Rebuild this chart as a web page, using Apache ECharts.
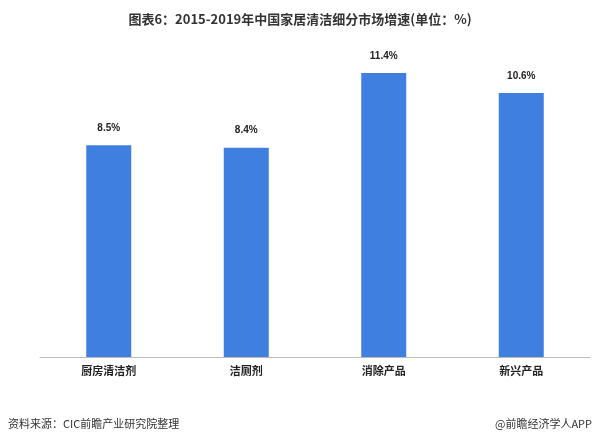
<!DOCTYPE html>
<html><head><meta charset="utf-8">
<script src="https://cdn.jsdelivr.net/npm/echarts@6/dist/echarts.min.js"></script>
<style>html,body{margin:0;padding:0;background:#fff}#c{width:600px;height:446px}</style>
</head><body><div id="c"></div>
<script>
const categories = ['厨房清洁剂','洁厕剂','消除产品','新兴产品'];
const values = [8.5, 8.4, 11.4, 10.6];
const chart = echarts.init(document.getElementById('c'));
chart.setOption({
  animation:false,
  title:{text:'图表6：2015-2019年中国家居清洁细分市场增速(单位：%)',left:'center',top:8,
    textStyle:{fontSize:13,fontWeight:'bold',color:'#333',fontFamily:'Noto Sans CJK SC'}},
  graphic:[
    {type:'text',left:8,top:418,style:{text:'资料来源：CIC前瞻产业研究院整理',font:'11px "Noto Sans CJK SC"',fill:'#333'}},
    {type:'text',right:8,top:418,style:{text:'@前瞻经济学人APP',font:'11px "Noto Sans CJK SC"',fill:'#333'}}
  ],
  grid:{left:40,right:10,top:58,bottom:89},
  xAxis:{type:'category',data:categories,axisTick:{show:false},
    axisLine:{lineStyle:{color:'#bbb'}},
    axisLabel:{color:'#222',fontWeight:'bold',fontSize:11,fontFamily:'Noto Sans CJK SC',margin:8}},
  yAxis:{type:'value',min:0,max:12,show:false,splitLine:{show:false}},
  series:[{type:'bar',data:values,barWidth:45,itemStyle:{color:'#3e7fe0'},
    label:{show:true,position:'top',formatter:'{c}%',fontSize:10,fontWeight:'bold',color:'#222',distance:12}}]
});
</script></body></html>
